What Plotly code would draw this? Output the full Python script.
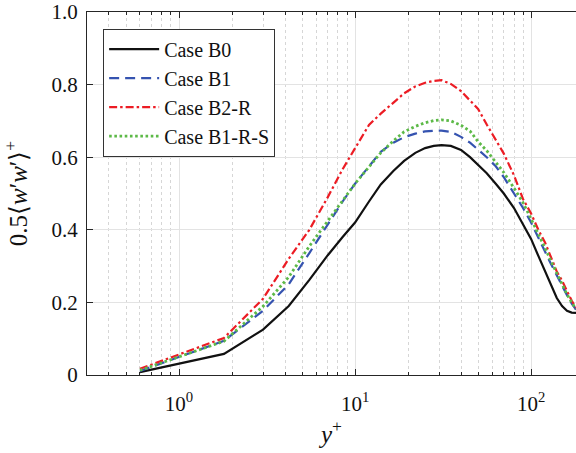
import plotly.graph_objects as go
import numpy as np

# wall distance y+
y_plus = [0.6, 1.8, 3.0, 4.2, 5.5, 7, 8.5, 10, 12, 14, 16.5, 19, 22, 25, 28, 31, 35, 40, 45, 50,
          56, 63, 70, 80, 90, 100, 110, 120, 130, 140, 150, 160, 170, 180]

case_b0 = [0.008, 0.058, 0.125, 0.19, 0.262, 0.33, 0.38, 0.42, 0.478, 0.525, 0.562, 0.59, 0.612, 0.625, 0.631, 0.633, 0.631, 0.62, 0.60, 0.58,
           0.556, 0.527, 0.50, 0.46, 0.415, 0.375, 0.328, 0.285, 0.245, 0.212, 0.19, 0.177, 0.172, 0.171]
case_b1 = [0.011, 0.094, 0.177, 0.25, 0.336, 0.415, 0.478, 0.527, 0.575, 0.615, 0.64, 0.655, 0.665, 0.671, 0.673, 0.673, 0.67, 0.656, 0.64, 0.622,
           0.60, 0.575, 0.545, 0.50, 0.46, 0.42, 0.38, 0.34, 0.305, 0.273, 0.245, 0.22, 0.197, 0.18]
case_b2r = [0.017, 0.102, 0.21, 0.32, 0.40, 0.49, 0.567, 0.625, 0.689, 0.72, 0.75, 0.776, 0.795, 0.805, 0.81, 0.812, 0.802, 0.782, 0.756, 0.733,
            0.69, 0.648, 0.61, 0.55, 0.485, 0.445, 0.40, 0.365, 0.325, 0.285, 0.26, 0.23, 0.205, 0.186]
case_b1rs = [0.013, 0.093, 0.189, 0.27, 0.355, 0.425, 0.483, 0.527, 0.573, 0.612, 0.645, 0.67, 0.685, 0.695, 0.701, 0.703, 0.70, 0.688, 0.672, 0.643,
             0.618, 0.585, 0.558, 0.515, 0.475, 0.43, 0.39, 0.35, 0.313, 0.28, 0.25, 0.222, 0.20, 0.182]

series_names = ["Case B0", "Case B1", "Case B2-R", "Case B1-R-S"]
series_vals = [case_b0, case_b1, case_b2r, case_b1rs]
series_colors = ["#111111", "#3553b0", "#ec1c24", "#5cb947"]
series_dash = ["solid", "10px,6px", "8px,3px,2.5px,3px", "2.6px,2.6px"]
series_width = [2.2, 2.2, 2.2, 2.8]

x_major = [1, 10, 100]
x_major_text = ["10<sup>0</sup>", "10<sup>1</sup>", "10<sup>2</sup>"]
x_minor = [0.4, 0.5, 0.6, 0.7, 0.8, 0.9] + list(range(2, 10)) + list(range(20, 100, 10))
y_ticks = [0, 0.2, 0.4, 0.6, 0.8, 1.0]
y_tick_text = ["0", "0.2", "0.4", "0.6", "0.8", "1.0"]

FONT = "Liberation Serif"

fig = go.Figure()
for name, vals, col, dash, w in zip(series_names, series_vals, series_colors, series_dash, series_width):
    fig.add_trace(go.Scatter(x=y_plus, y=vals, mode="lines", name=name,
                             line=dict(color=col, dash=dash, width=w)))

axis_col = "#262626"
fig.update_layout(
    width=576, height=453,
    margin=dict(l=87, r=0, t=12, b=78),
    paper_bgcolor="white", plot_bgcolor="white",
    font=dict(family=FONT, size=20, color="#111111"),
    showlegend=True,
    legend=dict(x=0.033, y=0.954, xanchor="left", yanchor="top",
                bgcolor="white", bordercolor="#333333", borderwidth=1,
                font=dict(family=FONT, size=20), itemwidth=50,
                tracegroupgap=0),
    xaxis=dict(type="log", range=[np.log10(0.3), np.log10(180)],
               tickmode="array", tickvals=x_major, ticktext=x_major_text,
               ticks="inside", ticklen=6, tickcolor=axis_col, tickwidth=1,
               showline=True, linecolor=axis_col, linewidth=1, mirror="ticks",
               showgrid=True, gridcolor="#e3e3e3", gridwidth=1,
               zeroline=False, ticklabelstandoff=10,
               minor=dict(tickmode="array", tickvals=x_minor, ticks="inside",
                          ticklen=3, tickcolor=axis_col, showgrid=True,
                          gridcolor="#d6d6d6", griddash="dot", gridwidth=1),
               title=dict(text="<i>y</i><sup>+</sup>", font=dict(family=FONT, size=25), standoff=8),
               tickfont=dict(family=FONT, size=21)),
    yaxis=dict(range=[0, 1], tickmode="array", tickvals=y_ticks, ticktext=y_tick_text,
               ticks="inside", ticklen=6, tickcolor=axis_col, tickwidth=1,
               showline=True, linecolor=axis_col, linewidth=1, mirror=False,
               showgrid=True, gridcolor="#e3e3e3", gridwidth=1,
               zeroline=False, ticklabelstandoff=4,
               title=dict(text="0.5⟨<i>w</i>′<i>w</i>′⟩<sup>+</sup>", font=dict(family=FONT, size=25), standoff=18),
               tickfont=dict(family=FONT, size=21)),
)

fig.write_html("out.html")
